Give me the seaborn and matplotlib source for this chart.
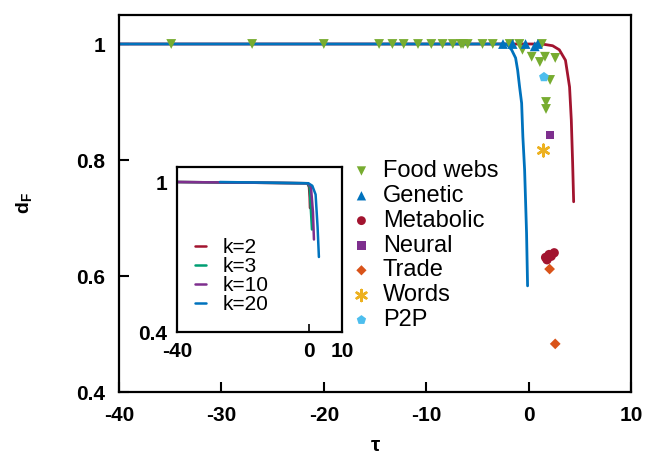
import numpy as np
import pandas as pd
import matplotlib.pyplot as plt
import seaborn as sns

# points
food_x = [-34.9, -27.0, -20.0, -14.6, -13.3, -12.2, -10.8, -9.5, -8.4, -7.4, -6.6, -6.4,
          -5.95, -4.5, -3.5, -1.85, -0.9, 1.3, -0.6, 0.3, 1.1, 1.6, 2.6, 2.1, 1.7, 1.7]
food_y = [1.0, 1.0, 1.0, 1.0, 1.0, 1.0, 1.0, 1.0, 1.0, 1.0, 1.0, 1.0,
          1.0, 1.0, 1.0, 1.0, 1.0, 1.0, 0.99, 0.978, 0.969, 0.978, 0.976, 0.938, 0.90, 0.888]
genetic_x = [-2.5, -1.56, -0.3, 0.6, 0.9]
genetic_y = [1.0, 1.0, 1.0, 0.996, 1.0]
metabolic_x = [1.66, 2.0, 2.5, 1.8, 2.2]
metabolic_y = [0.632, 0.637, 0.640, 0.628, 0.634]
neural_x = [2.1]
neural_y = [0.843]
trade_x = [2.05, 2.6]
trade_y = [0.612, 0.483]
words_x = [1.4]
words_y = [0.817]
p2p_x = [1.5]
p2p_y = [0.943]

# theory curves in main panel
red_x = [-40, 1.3, 2.35, 3.0, 3.6, 4.0, 4.17, 4.3, 4.4]
red_y = [1.0, 1.0, 0.997, 0.99, 0.972, 0.926, 0.869, 0.795, 0.728]
blue_x = [-40, -2.15, -1.66, -1.27, -1.07, -0.88, -0.68, -0.56, -0.39, -0.29, -0.2, -0.1]
blue_y = [1.0, 1.0, 0.99, 0.976, 0.955, 0.926, 0.898, 0.84, 0.783, 0.726, 0.674, 0.583]

# inset curves
k_labels = ['k=2', 'k=3', 'k=10', 'k=20']
k_x = [[-40, -0.5, 0.0, 0.2, 0.3],
       [-40, -0.5, 0.2, 0.6, 0.9],
       [-40, -0.3, 0.6, 1.2, 1.5],
       [-27, -0.2, 1.0, 2.0, 2.6, 3.0]]
k_y = [[1.0, 0.995, 0.98, 0.94, 0.896],
       [1.0, 0.995, 0.98, 0.88, 0.81],
       [1.0, 0.995, 0.98, 0.88, 0.77],
       [1.0, 0.995, 0.985, 0.95, 0.82, 0.70]]
k_colors = ['#A2142F', '#009E73', '#7E2F8E', '#0072BD']

sns.set_style('white')
plt.rcParams['font.family'] = ['Liberation Sans', 'DejaVu Sans']
plt.rcParams['axes.unicode_minus'] = False
plt.rcParams['mathtext.fontset'] = 'custom'
plt.rcParams['mathtext.bf'] = 'Liberation Sans:bold'
plt.rcParams['mathtext.rm'] = 'Liberation Sans:bold'
for key in ['text.color', 'axes.labelcolor', 'xtick.color', 'ytick.color']:
    plt.rcParams[key] = 'black'

fig = plt.figure(figsize=(6.49, 4.58), dpi=100)
ax = fig.add_axes([119 / 649, 66 / 458, 512 / 649, 377 / 458])

sns.lineplot(x=red_x, y=red_y, sort=False, color='#A2142F', lw=2, ax=ax)
sns.lineplot(x=blue_x, y=blue_y, sort=False, color='#0072BD', lw=2, ax=ax)

groups = [
    ('Food webs', food_x, food_y, 'v', '#77AC30', 50),
    ('Genetic', genetic_x, genetic_y, '^', '#0072BD', 50),
    ('Metabolic', metabolic_x, metabolic_y, 'o', '#A2142F', 45),
    ('Neural', neural_x, neural_y, 's', '#7E2F8E', 40),
    ('Trade', trade_x, trade_y, 'D', '#D95319', 30),
    ('Words', words_x, words_y, (6, 2, 0), '#EDB120', 70),
    ('P2P', p2p_x, p2p_y, 'p', '#4DBEEE', 55),
]
for name, xs, ys, mk, col, sz in groups:
    df = pd.DataFrame({'x': xs, 'y': ys})
    if isinstance(mk, tuple):
        sns.scatterplot(data=df, x='x', y='y', marker=mk, color=col, s=sz,
                        linewidth=1.8, ax=ax, label=name, zorder=3)
    else:
        sns.scatterplot(data=df, x='x', y='y', marker=mk, color=col, s=sz,
                        edgecolor='none', ax=ax, label=name, zorder=3)

ax.set_xlim(-40, 10)
ax.set_ylim(0.4, 1.05)
ax.set_xticks([-40, -30, -20, -10, 0, 10])
ax.set_yticks([0.4, 0.6, 0.8, 1.0])
ax.set_yticklabels(['0.4', '0.6', '0.8', '1'])
ax.tick_params(direction='in', length=7, width=1.5, labelsize=15, pad=10,
               bottom=True, left=True)
for lab in ax.get_xticklabels() + ax.get_yticklabels():
    lab.set_fontweight('bold')
for sp in ax.spines.values():
    sp.set_linewidth(1.6)
    sp.set_color('black')
ax.set_xlabel('τ', fontsize=15, fontweight='bold', labelpad=8)
ax.set_ylabel(r'$\mathbf{d_F}$', fontsize=14, labelpad=30)

ax.legend(loc='upper left', bbox_to_anchor=(0.432, 0.64), frameon=False,
          fontsize=17, handletextpad=0.4, labelspacing=0.12, borderaxespad=0,
          handlelength=1.0, markerscale=0.95)

# inset
ins = fig.add_axes([177 / 649, 126 / 458, 165 / 649, 165 / 458])
for lab, xs, ys, col in zip(k_labels, k_x, k_y, k_colors):
    sns.lineplot(x=xs, y=ys, sort=False, color=col, lw=1.8, ax=ins, label=lab)
ins.set_xlim(-40, 10)
ins.set_ylim(0.4, 1.06)
ins.set_xticks([-40, 0, 10])
ins.set_yticks([0.4, 1.0])
ins.set_yticklabels(['0.4', '1'])
ins.tick_params(direction='in', length=6, width=1.2, labelsize=15, pad=7,
                bottom=True, left=True)
for lab in ins.get_xticklabels() + ins.get_yticklabels():
    lab.set_fontweight('bold')
for sp in ins.spines.values():
    sp.set_linewidth(1.6)
    sp.set_color('black')
ins.set_xlabel('')
ins.set_ylabel('')
ins.legend(loc='upper left', bbox_to_anchor=(0.06, 0.62), frameon=False,
           fontsize=15, handlelength=0.5, handletextpad=0.8, labelspacing=0.0,
           borderaxespad=0)

fig.savefig('out.png', dpi=100)
